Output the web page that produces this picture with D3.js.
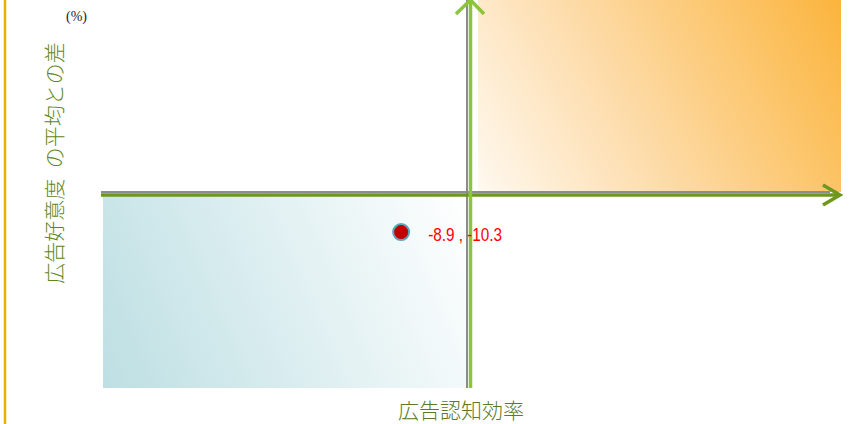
<!DOCTYPE html>
<html><head><meta charset="utf-8">
<script src="https://cdn.jsdelivr.net/npm/d3@7"></script>
<style>body{margin:0;background:#fff;}svg{display:block;}</style>
</head><body>
<script>
// data
const pointNames = ["広告"];
const xValues = [-8.9];
const yValues = [-10.3];
const pointLabels = ["-8.9 , -10.3"];
const xTitle = "広告認知効率";
const yTitle = "広告好意度\u2002の平均との差";
const unitLabel = "(%)";

const W = 851, H = 424;
const svg = d3.select("body").append("svg").attr("width", W).attr("height", H);

const x = d3.scaleLinear().domain([-48, 48]).range([103, 835]);
const y = d3.scaleLinear().domain([-50, 50]).range([379, 9]);
const x0 = x(0), y0 = y(0);

const defs = svg.append("defs");
const go = defs.append("linearGradient").attr("id","gOrange").attr("gradientUnits","userSpaceOnUse")
  .attr("x1",455).attr("y1",225).attr("x2",850).attr("y2",10);
go.append("stop").attr("offset","0").attr("stop-color","#ffffff");
go.append("stop").attr("offset","0.45").attr("stop-color","#fddcaa");
go.append("stop").attr("offset","1").attr("stop-color","#fbb43b");
const gb = defs.append("linearGradient").attr("id","gBlue").attr("gradientUnits","userSpaceOnUse")
  .attr("x1",103).attr("y1",388).attr("x2",481).attr("y2",229);
gb.append("stop").attr("offset","0").attr("stop-color","#bddfe3");
gb.append("stop").attr("offset","1").attr("stop-color","#ffffff");

// yellow left rule
svg.append("line").attr("x1",5).attr("x2",5).attr("y1",0).attr("y2",H).attr("stroke","#e3b400").attr("stroke-width",2.5);

// quadrants
svg.append("rect").attr("x",478).attr("y",0).attr("width",841-478).attr("height",y0-2).attr("fill","url(#gOrange)");
svg.append("rect").attr("x",103).attr("y",y0+2).attr("width",x0-2-103).attr("height",388-(y0+2)).attr("fill","url(#gBlue)");

// gray axis lines
svg.append("line").attr("x1",101).attr("x2",830).attr("y1",y0-2).attr("y2",y0-2).attr("stroke","#8c8c8c").attr("stroke-width",2);
svg.append("line").attr("x1",x0-2).attr("x2",x0-2).attr("y1",0).attr("y2",388).attr("stroke","#8c8c8c").attr("stroke-width",2);

// green axes
svg.append("line").attr("x1",101).attr("x2",838).attr("y1",y0+1).attr("y2",y0+1).attr("stroke","#6e971c").attr("stroke-width",3.5);
svg.append("polyline").attr("points",`823,${y0-9} 840,${y0+1} 823,${y0+11}`).attr("fill","none").attr("stroke","#6e971c").attr("stroke-width",3.5);
svg.append("line").attr("x1",x0+1.5).attr("x2",x0+1.5).attr("y1",2).attr("y2",388).attr("stroke","#8cc43a").attr("stroke-width",3.5);
svg.append("polyline").attr("points",`${x0-13},14 ${x0+1.5},0 ${x0+15},14`).attr("fill","none").attr("stroke","#8cc43a").attr("stroke-width",3.5);

// point
const g = svg.append("g");
g.selectAll("circle").data(xValues).join("circle")
  .attr("cx",(d)=>x(d)).attr("cy",(d,i)=>y(yValues[i])).attr("r",8)
  .attr("fill","#c00000").attr("stroke","#5aa8b4").attr("stroke-width",2);
g.selectAll("text").data(xValues).join("text")
  .attr("transform",(d,i)=>`translate(${x(d)+27},${y(yValues[i])+9}) scale(0.85,1)`)
  .attr("fill","#ff0000").attr("font-family","'Liberation Sans',Arial,sans-serif")
  .attr("font-size",18).text((d,i)=>pointLabels[i]);

// titles
svg.append("text").attr("x",66).attr("y",21).attr("font-family","'Liberation Serif','DejaVu Serif',serif").attr("font-size",14).attr("fill","#222").text(unitLabel);
svg.append("text").attr("transform","translate(62,163) rotate(-90)").attr("text-anchor","middle")
  .attr("font-family","'Noto Sans CJK JP',sans-serif").attr("font-weight",300).attr("font-size",21).attr("fill","#5f861c").text(yTitle);
svg.append("text").attr("x",461).attr("y",418).attr("text-anchor","middle")
  .attr("font-family","'Noto Sans CJK JP',sans-serif").attr("font-weight",300).attr("font-size",21).attr("fill","#5a7a28").text(xTitle);
</script>
</body></html>
